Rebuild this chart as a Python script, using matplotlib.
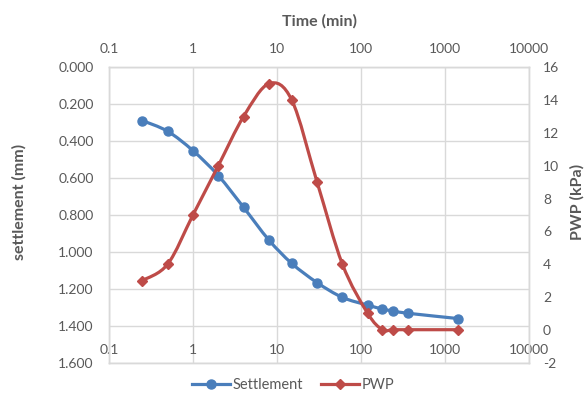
import numpy as np
import matplotlib
matplotlib.use("Agg")
import matplotlib.pyplot as plt
from matplotlib.path import Path
from matplotlib.patches import PathPatch
from matplotlib.lines import Line2D
from matplotlib.ticker import FixedLocator, FuncFormatter, NullLocator

# ---- data ----
time_min = [0.25, 0.5, 1, 2, 4, 8, 15, 30, 60, 120, 180, 240, 360, 1440]
settlement = [0.289, 0.347, 0.452, 0.587, 0.759, 0.936, 1.063, 1.167, 1.247,
              1.289, 1.310, 1.321, 1.333, 1.362]
pwp = [3, 4, 7, 10, 13, 15, 14, 9, 4, 1, 0, 0, 0, 0]
x_ticks = [0.1, 1, 10, 100, 1000, 10000]
x_tick_labels = ["0.1", "1", "10", "100", "1000", "10000"]
settle_ticks = [0.0, 0.2, 0.4, 0.6, 0.8, 1.0, 1.2, 1.4, 1.6]
pwp_ticks = [-2, 0, 2, 4, 6, 8, 10, 12, 14, 16]

BLUE = "#4A7EBB"
RED = "#BE4B48"
TXT = "#595959"
GRID = "#D9D9D9"

plt.rcParams["font.family"] = ["Lato", "DejaVu Sans"]
plt.rcParams["font.size"] = 10
plt.rcParams["axes.unicode_minus"] = False


def smooth_path(xs, ys):
    """Catmull-Rom style smoothing (as Excel 'smoothed line'), in log-x space."""
    lx = np.log10(np.asarray(xs, float))
    y = np.asarray(ys, float)
    n = len(lx)
    P = np.column_stack([lx, y])
    verts = [P[0]]
    codes = [Path.MOVETO]
    for i in range(n - 1):
        p0 = P[i - 1] if i > 0 else P[i]
        p1 = P[i]
        p2 = P[i + 1]
        p3 = P[i + 2] if i + 2 < n else P[i + 1]
        c1 = p1 + (p2 - p0) / 6.0
        c2 = p2 - (p3 - p1) / 6.0
        verts += [c1, c2, p2]
        codes += [Path.CURVE4] * 3
    verts = np.array(verts)
    verts[:, 0] = 10 ** verts[:, 0]
    return Path(verts, codes)


fig = plt.figure(figsize=(5.86, 3.94), dpi=100)
ax = fig.add_axes([109 / 586, 31.5 / 394, 420 / 586, 295.2 / 394])
ax2 = ax.twinx()

ax.set_xscale("log")
ax.set_xlim(0.1, 10000)
ax.set_ylim(1.6, 0.0)
ax2.set_ylim(-2, 16)

# settlement
ax.add_patch(PathPatch(smooth_path(time_min, settlement), fill=False,
                       edgecolor=BLUE, lw=2.3, capstyle="round", joinstyle="round", zorder=3))
ax.plot(time_min, settlement, ls="none", marker="o", ms=6.5, color=BLUE, zorder=4)
# pwp
ax2.add_patch(PathPatch(smooth_path(time_min, pwp), fill=False,
                        edgecolor=RED, lw=2.3, capstyle="round", joinstyle="round", zorder=3))
ax2.plot(time_min, pwp, ls="none", marker="D", ms=5.5, color=RED, zorder=4)

# x ticks
ax.xaxis.set_major_locator(FixedLocator(x_ticks))
ax.xaxis.set_minor_locator(NullLocator())
ax.xaxis.set_major_formatter(FuncFormatter(lambda v, p: x_tick_labels[x_ticks.index(v)] if v in x_ticks else ""))
ax.tick_params(axis="x", which="both", length=0, colors=TXT, labelsize=10, pad=-13.5)

ax2.xaxis.set_visible(True)
ax2.xaxis.tick_top()
ax2.xaxis.set_minor_locator(NullLocator())
ax2.tick_params(axis="x", which="both", length=0, colors=TXT, labelsize=10, pad=9,
                labeltop=True, labelbottom=False)

# y ticks
ax.set_yticks(settle_ticks)
ax.yaxis.set_major_formatter(FuncFormatter(lambda v, p: f"{v:.3f}"))
ax.tick_params(axis="y", length=0, colors=TXT, labelsize=10, pad=11)
ax2.set_yticks(pwp_ticks)
ax2.tick_params(axis="y", length=0, colors=TXT, labelsize=10, pad=10)

ax.grid(True, which="major", color=GRID, lw=1.0)
ax.set_axisbelow(True)
for a in (ax, ax2):
    for s in a.spines.values():
        s.set_color(GRID)
        s.set_linewidth(1.0)

# axis titles
TFS = 11.5
ax2.set_xlabel("Time (min)", fontweight="bold", color=TXT, fontsize=TFS)
ax2.xaxis.set_label_position("top")
ax2.xaxis.set_label_coords(0.5, (362.5 - 21) / 295.2)
ax2.xaxis.label.set_va("center")
ax.set_ylabel("settlement (mm)", fontweight="bold", color=TXT, fontsize=TFS)
ax.yaxis.set_label_coords((19 - 109) / 420, (362.5 - 202) / 295.2)
ax.yaxis.label.set_va("center")
ax2.set_ylabel("PWP (kPa)", fontweight="bold", color=TXT, fontsize=TFS)
ax2.yaxis.set_label_coords((577 - 109) / 420, (362.5 - 202) / 295.2)
ax2.yaxis.label.set_va("center")

handles = [
    Line2D([], [], color=BLUE, lw=2.3, marker="o", ms=6.5, label="Settlement"),
    Line2D([], [], color=RED, lw=2.3, marker="D", ms=5.5, label="PWP"),
]
leg = fig.legend(handles=handles, loc="center", bbox_to_anchor=(293 / 586, 9 / 394),
                 ncol=2, frameon=False, fontsize=10.5, handlelength=2.6,
                 handletextpad=0.2, columnspacing=1.2, labelcolor=TXT)

fig.savefig("out.png", dpi=100)
